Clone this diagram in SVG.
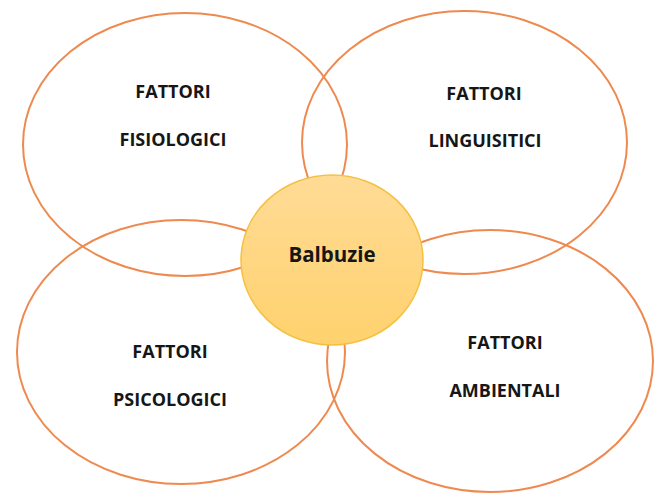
<svg xmlns="http://www.w3.org/2000/svg" width="660" height="503" viewBox="0 0 660 503">
<defs>
<linearGradient id="g" x1="0" y1="0" x2="0" y2="1">
<stop offset="0" stop-color="#FFDB96"/>
<stop offset="1" stop-color="#FFD26E"/>
</linearGradient>
</defs>
<style>
.e{fill:none;stroke:#EE8A4F;stroke-width:2}
.t{font-family:"Open Sans","Liberation Sans",sans-serif;font-weight:bold;font-size:18px;fill:#161616;text-anchor:middle}
.c{fill:url(#g);stroke:#F5C040;stroke-width:1.5}
</style>
<rect width="660" height="503" fill="#ffffff"/>
<g id="fisiologici">
<ellipse class="e" cx="185" cy="144.5" rx="162" ry="131.5"/>
<text class="t" x="173" y="98">FATTORI</text>
<text class="t" x="173" y="146">FISIOLOGICI</text>
</g>
<g id="linguisitici">
<ellipse class="e" cx="464.5" cy="142.5" rx="162.5" ry="131.5"/>
<text class="t" x="484" y="100">FATTORI</text>
<text class="t" x="485" y="147">LINGUISITICI</text>
</g>
<g id="psicologici">
<ellipse class="e" cx="181" cy="352" rx="164" ry="132"/>
<text class="t" x="170" y="358">FATTORI</text>
<text class="t" x="170" y="406">PSICOLOGICI</text>
</g>
<g id="ambientali">
<ellipse class="e" cx="490" cy="361" rx="163" ry="131"/>
<text class="t" x="505" y="349">FATTORI</text>
<text class="t" x="505" y="397">AMBIENTALI</text>
</g>
<g id="connectors"></g>
<g id="balbuzie">
<ellipse class="c" cx="332" cy="260" rx="91" ry="85"/>
<text class="t" x="332" y="262" style="font-size:20.5px">Balbuzie</text>
</g>
</svg>
